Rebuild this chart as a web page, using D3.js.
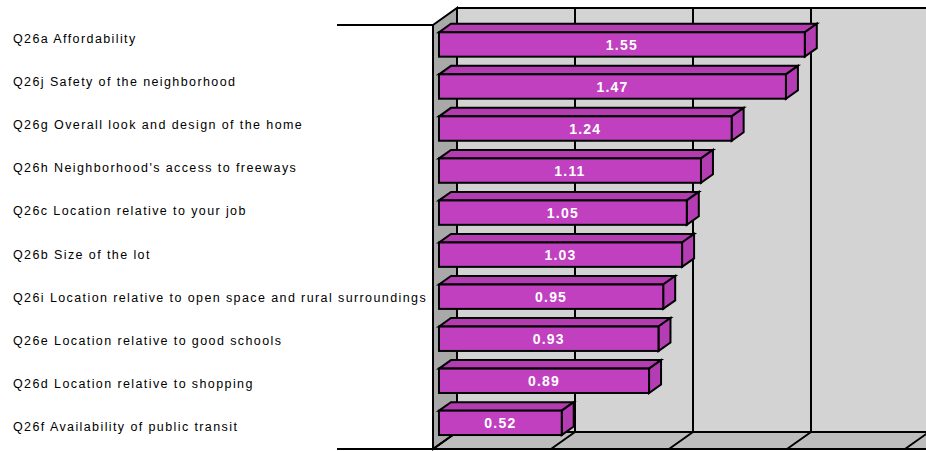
<!DOCTYPE html>
<html>
<head>
<meta charset="utf-8">
<script src="https://cdn.jsdelivr.net/npm/d3@7/dist/d3.min.js"></script>
<style>
  html, body { margin: 0; padding: 0; background: #ffffff; }
  svg { display: block; }
  .cat { font-family: "Liberation Sans", Arial, sans-serif; font-size: 12.5px; letter-spacing: 1.4px; fill: #000; }
  .val { font-family: "Liberation Sans", Arial, sans-serif; font-size: 14px; font-weight: bold; letter-spacing: 1.2px; fill: #fff; }
</style>
</head>
<body>
<svg id="chart" width="926" height="451"></svg>
<script>
// Survey items, ordered top to bottom, with their mean importance scores
const categories = [
  "Q26a Affordability",
  "Q26j Safety of the neighborhood",
  "Q26g Overall look and design of the home",
  "Q26h Neighborhood's access to freeways",
  "Q26c Location relative to your job",
  "Q26b Size of the lot",
  "Q26i Location relative to open space and rural surroundings",
  "Q26e Location relative to good schools",
  "Q26d Location relative to shopping",
  "Q26f Availability of public transit"
];
const values = [1.55, 1.47, 1.24, 1.11, 1.05, 1.03, 0.95, 0.93, 0.89, 0.52];
const valueLabels = ["1.55", "1.47", "1.24", "1.11", "1.05", "1.03", "0.95", "0.93", "0.89", "0.52"];
const gridTicks = [0, 0.5, 1, 1.5, 2];

const W = 926, H = 451;
const svg = d3.select("#chart");

// Front plane of the 3-D box and its depth offset
const plotTop = 25, plotBottom = 449;
const depthX = 24, depthY = -17;
const x = d3.scaleLinear().domain([0, 2]).range([433, 905]);

// Bars sit halfway into the box (z from 0.25 to 0.75)
const zFront = 0.25, zBack = 0.75;
const y = d3.scaleBand().domain(categories)
  .range([27.7, 448.1]).paddingInner(0.42).paddingOuter(0.21);
const yLabel = d3.scaleBand().domain(categories).range([16.7, 448.3]);

const P = (px, py, z) => [px + depthX * z, py + depthY * z];
const poly = pts => pts.map(p => p.join(",")).join(" ");

const x0 = x(0), x2 = x(2);

// Back wall
svg.append("polygon")
  .attr("points", poly([P(x0, plotTop, 1), P(x2 + 40, plotTop, 1), P(x2 + 40, plotBottom, 1), P(x0, plotBottom, 1)]))
  .attr("fill", "#d3d3d3");

// Floor
svg.append("polygon")
  .attr("points", poly([P(x0, plotBottom, 0), P(x0, plotBottom, 1), P(x2 + 40, plotBottom, 1), P(x2 + 40, plotBottom, 0)]))
  .attr("fill", "#bdbdbd");

// Left side wall
svg.append("polygon")
  .attr("points", poly([P(x0, plotTop, 0), P(x0, plotTop, 1), P(x0, plotBottom, 1), P(x0, plotBottom, 0)]))
  .attr("fill", "#a9a9a9")
  .attr("stroke", "#000").attr("stroke-width", 2).attr("stroke-linejoin", "miter");

// Gridlines on the back wall and their continuation across the floor
const grid = svg.append("g").attr("stroke", "#000").attr("stroke-width", 2);
gridTicks.forEach(t => {
  const b0 = P(x(t), plotTop, 1), b1 = P(x(t), plotBottom, 1), f1 = P(x(t), plotBottom, 0);
  grid.append("line").attr("x1", b0[0]).attr("y1", b0[1]).attr("x2", b1[0]).attr("y2", b1[1]);
  grid.append("line").attr("x1", b1[0]).attr("y1", b1[1]).attr("x2", f1[0]).attr("y2", f1[1]);
});
// Back wall top edge and floor back edge
const bt = P(x0, plotTop, 1), bb = P(x0, plotBottom, 1);
grid.append("line").attr("x1", bt[0]).attr("y1", bt[1]).attr("x2", W).attr("y2", bt[1]);
grid.append("line").attr("x1", bb[0]).attr("y1", bb[1]).attr("x2", W).attr("y2", bb[1]);

// Category axis lines along the front plane
grid.append("line").attr("x1", 337).attr("y1", plotTop).attr("x2", x0).attr("y2", plotTop);
grid.append("line").attr("x1", 337).attr("y1", plotBottom).attr("x2", W).attr("y2", plotBottom);

// Bars
const bars = svg.append("g").attr("stroke", "#000").attr("stroke-width", 2).attr("stroke-linejoin", "miter");
categories.forEach((c, i) => {
  const v = values[i];
  const yt = y(c), yb = y(c) + y.bandwidth();
  const xv = x(v);
  // top face
  bars.append("polygon")
    .attr("points", poly([P(x0, yt, zFront), P(x0, yt, zBack), P(xv, yt, zBack), P(xv, yt, zFront)]))
    .attr("fill", "#b23cb0");
  // end face
  bars.append("polygon")
    .attr("points", poly([P(xv, yt, zFront), P(xv, yt, zBack), P(xv, yb, zBack), P(xv, yb, zFront)]))
    .attr("fill", "#b53db4");
  // front face
  const f0 = P(x0, yt, zFront), f1 = P(xv, yb, zFront);
  bars.append("rect")
    .attr("x", f0[0]).attr("y", f0[1])
    .attr("width", f1[0] - f0[0]).attr("height", f1[1] - f0[1])
    .attr("fill", "#c040bf");
  // value label
  svg.append("text").attr("class", "val")
    .attr("x", (f0[0] + f1[0]) / 2).attr("y", (f0[1] + f1[1]) / 2)
    .attr("dy", "0.36em").attr("text-anchor", "middle")
    .text(valueLabels[i]);
});

// Category labels
svg.append("g").selectAll("text").data(categories).join("text")
  .attr("class", "cat")
  .attr("x", 13)
  .attr("y", d => yLabel(d) + yLabel.bandwidth() / 2)
  .attr("dy", "0.36em")
  .text(d => d);
</script>
</body>
</html>
